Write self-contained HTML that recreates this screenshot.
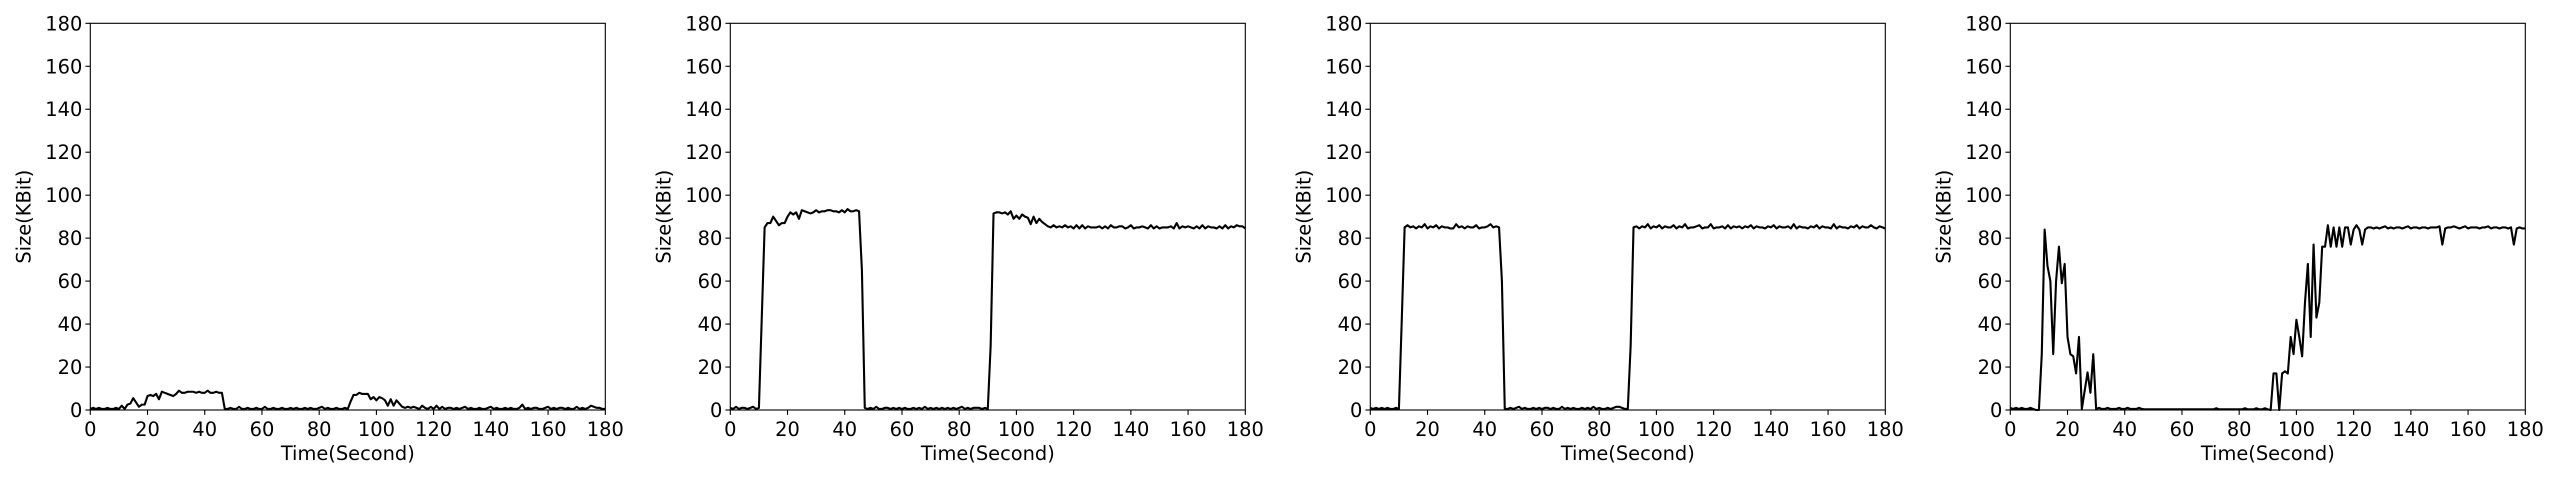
<!DOCTYPE html>
<html><head><meta charset="utf-8"><style>
html,body{margin:0;padding:0;background:#fff;}
svg{display:block;font-family:"DejaVu Sans","Liberation Sans",sans-serif;}
</style></head><body>
<svg id="fig" width="2560" height="480" viewBox="0 0 2560 480"></svg>
<script>
const xTicks = [0,20,40,60,80,100,120,140,160,180];
const yTicks = [0,20,40,60,80,100,120,140,160,180];
const panelNames = ['panel-1','panel-2','panel-3','panel-4'];
const series1 = [0.5,1,0.5,1,0.5,0.5,1,0.5,0.5,1,0.5,
 2,0.5,2.5,3,5.5,3.5,1.5,2.5,2.5,6.5,
 7,6.5,7.5,5,8.5,8,7.5,7,6.5,7.5,
 9,8,8,8.5,8.5,8.5,8,8.5,8,8,
 9,8,8,8.5,8,8,
 0.5,0.5,1,0.5,0.5,1.5,0.5,0.5,1,0.5,0.5,1,0.5,0.5,
 1.5,0.5,0.5,1,0.5,0.5,1,0.5,0.5,1,0.5,1,0.5,0.5,1,0.5,1,0.5,0.5,1,1.5,0.5,1,0.5,0.5,1,0.5,0.5,1,0.5,
 4,7,7,8,7.5,7.5,7.5,5,6,4.5,6,5.5,4.5,2,5,2,4.5,3,1.5,1,
 1.5,1,1.5,1,0.5,2,1,0.5,1.5,0.5,2,0.5,1.5,0.5,1,1,0.5,1,0.5,1,1.5,0.5,1,0.5,0.5,1,0.5,0.5,1,1.5,0.5,1,0.5,0.5,1,0.5,1,0.5,0.5,1,2.5,0.5,1,0.5,1,1,0.5,0.5,1,1.5,0.5,1,0.5,1,1,0.5,1,0.5,0.5,1.5,0.5,1,0.5,1,2,1.5,1,1,0.5,0.5];
const series2 = [1,0.5,1.5,0.5,1,1,0.5,1,1.5,0.5,1,
 43,85,87,87,90,88,86,87,87,90,
 92,91,92,89,93,92.5,92,91.5,92,93,
 92,92.5,92.5,93,93,92.5,92.5,92,93,92,93.5,92.5,92.5,93,92.5,
 65,
 1,0.5,1,0.5,1.5,0.5,0.5,1,1,0.5,1,0.5,1,0.5,1,0.5,0.5,1,0.5,1,0.5,1.5,0.5,1,
 0.5,1,0.5,1,0.5,1,0.5,1,0.5,1,1.5,0.5,1,0.5,1,1,1,0.5,1,0.5,
 30,
 91.5,92,92,91.5,92,91,92.5,89,90.5,89,91,90,89.5,86.5,90,87,89,87.5,86.5,
 85.5,85,86,85,85.5,85,86,85,85.5,84.5,86,84.5,86,84.5,85.5,85,85,85,85.5,84.5,85.5,84.5,86,85,85,85.5,85.5,84.5,85,86,84.5,85,85,85.5,85,84.5,86,84.5,85.5,84.5,85,85,85,85.5,84.5,87,84.5,85.5,85,85.5,85,84.5,85.5,84.5,86,84.5,85.5,85,85,84.5,85.5,84.5,86,84.5,85.5,85,86,85.5,85.5,84.5];
const series3 = [1,0.5,1,0.5,1,0.5,1,0.5,0.5,1,0.5,
 42,
 85,86,85,85.5,84.5,85.5,85,86.5,84.5,85.5,85,86,84.5,85.5,85,85,84.5,84.5,86.5,85,85.5,84.5,85.5,85,85,86,84.5,85,85,85.5,86.5,85,85.5,85,
 60,
 0.5,0.5,1,0.5,1,1.5,0.5,1,0.5,0.5,1,0.5,1,0.5,1,1,0.5,1,0.5,0.5,1.5,0.5,1,0.5,1,0.5,0.5,1,0.5,1,0.5,1.5,0.5,1,0.5,0.5,1,0.5,1,1.5,1.5,1,0.5,0.5,
 30,
 85,85.5,84.5,85.5,85,86.5,84.5,85.5,85,86,84.5,85.5,85,85,86,84.5,85.5,85,86.5,84.5,85,85,85.5,86,84.5,85,85,86.5,84.5,85,85,85.5,84.5,86,84.5,85.5,85,85.5,84.5,85.5,85,86,84.5,85.5,85,85,84.5,85.5,85,86,84.5,85.5,85,85,85.5,84.5,86.5,84.5,85.5,85,85,84.5,85.5,85,86,84.5,85.5,85,85,84.5,86.5,84.5,85.5,85,85,84.5,85.5,85,86,84.5,85.5,85,85,86,85,84.5,85.5,85,84.5];
const series4 = [1,0.5,1,0.5,1,0.5,0.5,1,0.5,0,0,
 26,84,67,60,26,60,76,59,68,34,26,25,17,34,0.5,9,17.5,8,26,0.5,
 1,0.5,0.5,1,0.5,0.5,0.5,1,0.5,0.5,1,0.5,0.5,0.5,1,0.5,
 0.3,0.3,0.3,0.3,0.3,0.3,0.3,0.3,0.3,0.3,0.3,0.3,0.3,0.3,0.3,0.3,0.3,0.3,0.3,0.3,0.3,0.3,0.3,0.3,0.3,0.8,0.3,0.3,0.3,0.3,0.3,0.3,0.3,0.3,0.3,0.8,0.3,0.3,0.3,0.8,0.3,0.3,0.8,0.3,
 0,
 17,17,0,17,18,17,34,26,42,34,25,50,68,34,77,43,50,76,76,86,76,85,76,85,76,85,85,77,84,86,84,77,
 84,85,85,84.5,85,84.5,85,85.5,84.5,85,84.5,85,85,84.5,85,85.5,84.5,85,85,84.5,85,85,84.5,85,85,85,85.5,
 77,
 84.5,85,85,85.5,85,84.5,85,85.5,84.5,85,85,85,84.5,85,85,85.5,84.5,85,85,84.5,85,85,84.5,85,
 77,
 84.5,85,84.5,84.5];
const allSeries = [series1, series2, series3, series4];

const NS = 'http://www.w3.org/2000/svg';
const svg = document.getElementById('fig');
const W = 515, TOP = 23.3, BOT = 410, FS = 19.4;
const lefts = [90.3, 730.3, 1370.3, 2010.3];
function mk(tag, attrs, parent){ const e=document.createElementNS(NS,tag); for(const k in attrs) e.setAttribute(k,attrs[k]); parent.appendChild(e); return e; }

allSeries.forEach((data, p) => {
  const L = lefts[p];
  const xS = v => L + v/180*W;
  const yS = v => BOT - v/180*(BOT-TOP);
  const g = mk('g', {}, svg);
  
  
  // line
  let d = '';
  data.forEach((v,i)=>{ d += (i?'L':'M') + xS(i).toFixed(2) + ',' + yS(v).toFixed(2); });
  const line = mk('path', {d:d, fill:'none', stroke:'#000', 'stroke-width':2.1, 'stroke-linejoin':'round'}, g);
  
  
  // frame
  const fr = mk('rect', {x:L, y:TOP, width:W, height:BOT-TOP, fill:'none', stroke:'#000', 'stroke-width':1.1}, g);
  
  
  xTicks.forEach(t=>{
    mk('line', {x1:xS(t), x2:xS(t), y1:BOT, y2:BOT+4.9, stroke:'#000', 'stroke-width':1.1}, g);
    const tx = mk('text', {x:xS(t), y:BOT+26, 'font-size':FS, 'text-anchor':'middle'}, g);
    tx.textContent = t;
    
    
  });
  yTicks.forEach(t=>{
    mk('line', {x1:L-4.9, x2:L, y1:yS(t), y2:yS(t), stroke:'#000', 'stroke-width':1.1}, g);
    const ty = mk('text', {x:L-8, y:yS(t)+7, 'font-size':FS, 'text-anchor':'end'}, g);
    ty.textContent = t;
    
    
  });
  const xl = mk('text', {x:L+W/2, y:460, 'font-size':FS, 'text-anchor':'middle'}, g);
  xl.textContent = 'Time(Second)';
  
  
  const cy = (TOP+BOT)/2, cx = L-60;
  const yl = mk('text', {x:cx, y:cy, 'font-size':FS, 'text-anchor':'middle', transform:'rotate(-90 '+cx+' '+cy+')'}, g);
  yl.textContent = 'Size(KBit)';
  
  
});
</script>
</body></html>
